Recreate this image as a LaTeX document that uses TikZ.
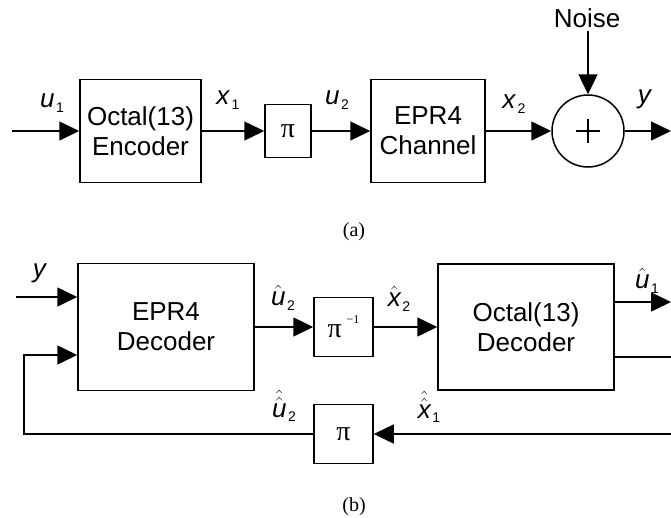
\documentclass[tikz,border=0pt]{standalone}
\usepackage{amsmath}
\usepackage{fontspec}
\setmainfont{Liberation Sans}
\newfontfamily\serifpi{Liberation Serif}
\usetikzlibrary{positioning,arrows.meta}
\newcommand{\idx}[1]{\raisebox{-0.35ex}{\fontsize{14pt}{14pt}\selectfont #1}}
\newcommand{\sig}[2]{\textit{#1}\kern1.5pt\idx{#2}}
\newcommand{\shat}[2]{$\hat{\mathit{#1}}$\kern1.5pt\idx{#2}}
\newcommand{\dhat}[2]{$\hat{\hat{\mathit{#1}}}$\kern1.5pt\idx{#2}}

\begin{document}
\begin{tikzpicture}[x=1pt,y=-1pt,
          every node/.style={font=\fontsize{26pt}{30pt}\selectfont,
                             align=center},
          block/.style={draw,line width=1.5pt,inner sep=0pt},
          perm/.style={block,minimum width=59pt,minimum height=59pt,
                       font=\serifpi\fontsize{28pt}{28pt}\selectfont},
          adder/.style={draw,circle,line width=1.5pt,minimum size=72pt,
                        inner sep=0pt},
          sig/.style={inner sep=0pt},
          panel/.style={font=\serifpi\fontsize{20pt}{22pt}\selectfont},
          arr/.style={line width=1.5pt,-{Triangle[length=20pt,width=19pt]}},
          wire/.style={line width=1.5pt},
        ]
        \useasboundingbox (0,0) rectangle (671,517);
        % (a) encoder and channel
        \coordinate (uin) at (12,131);
        \node[block,minimum width=121pt,minimum height=103pt]
              (enc) at (140.5,131) {Octal(13)\\Encoder};
        \node[perm,minimum width=46pt,minimum height=53pt]
              (piA) at (288,131) {π};
        \node[block,minimum width=114pt,minimum height=103pt]
              (chan) at (428,131) {EPR4\\Channel};
        \node[adder] (sum) at (588,131) {};
        \draw[wire] ([xshift=-12pt]sum.center) -- ([xshift=12pt]sum.center);
        \draw[wire] ([yshift=-12pt]sum.center) -- ([yshift=12pt]sum.center);
        \node (noise) at (587,18) {Noise};
        \coordinate (yout) at (671,131);
        \draw[arr] (uin) -- (enc);
        \draw[arr] (enc) -- (piA);
        \draw[arr] (piA) -- (chan);
        \draw[arr] (chan) -- (sum);
        \draw[arr] (sum |- noise.south) -- (sum);
        \draw[arr] (sum) -- (yout);
        \node[sig] (lu1) at (52,103) {\sig{u}{1}};
        \node[sig] (lx1) at (228,100) {\sig{x}{1}};
        \node[sig] (lu2) at (337,100) {\sig{u}{2}};
        \node[sig] (lx2) at (514,104) {\sig{x}{2}};
        \node[sig] (ly) at (645,99) {\textit{y}};
        \node[panel] (panA) at (354,232) {(a)};

        % (b) iterative decoder
        \node[block,minimum width=176pt,minimum height=127pt]
              (dec1) at (166,327) {EPR4\\Decoder};
        \node[perm] (piinv) at (343.5,327)
              {π\,\raisebox{0.5em}{\fontsize{12pt}{12pt}\selectfont −1}};
        \node[block,minimum width=176pt,minimum height=126pt]
              (dec2) at (526,327) {Octal(13)\\Decoder};
        \node[perm] (piB) at (343.5,434) {π};
        \coordinate (yin) at (16,297);
        \coordinate (fbl) at (24,355);
        \coordinate (fbr) at (671,434);
        \coordinate (u1out) at (671,302);
        \coordinate (x1out) at (671,357);
        \draw[arr] (yin) -- (yin -| dec1.west);
        \draw[arr] (dec1) -- (piinv);
        \draw[arr] (piinv) -- (dec2);
        \draw[arr] (dec2.east |- u1out) -- (u1out);
        \draw[wire] (dec2.east |- x1out) -- (x1out);
        \draw[arr] (fbr) -- (piB);
        \draw[arr] (piB.west) -| (fbl) -- (fbl -| dec1.west);
        \node[sig] (ly2) at (40,273) {\textit{y}};
        \node[sig] (lhu2) at (283,298) {\shat{u}{2}};
        \node[sig] (lhx2) at (399,299) {\shat{x}{2}};
        \node[sig] (lhu1) at (647,281) {\shat{u}{1}};
        \node[sig] (lhhu2) at (284,406) {\dhat{u}{2}};
        \node[sig] (lhhx1) at (429,407) {\dhat{x}{1}};
        \node[panel] (panB) at (354,507) {(b)};
      \end{tikzpicture}
\end{document}
